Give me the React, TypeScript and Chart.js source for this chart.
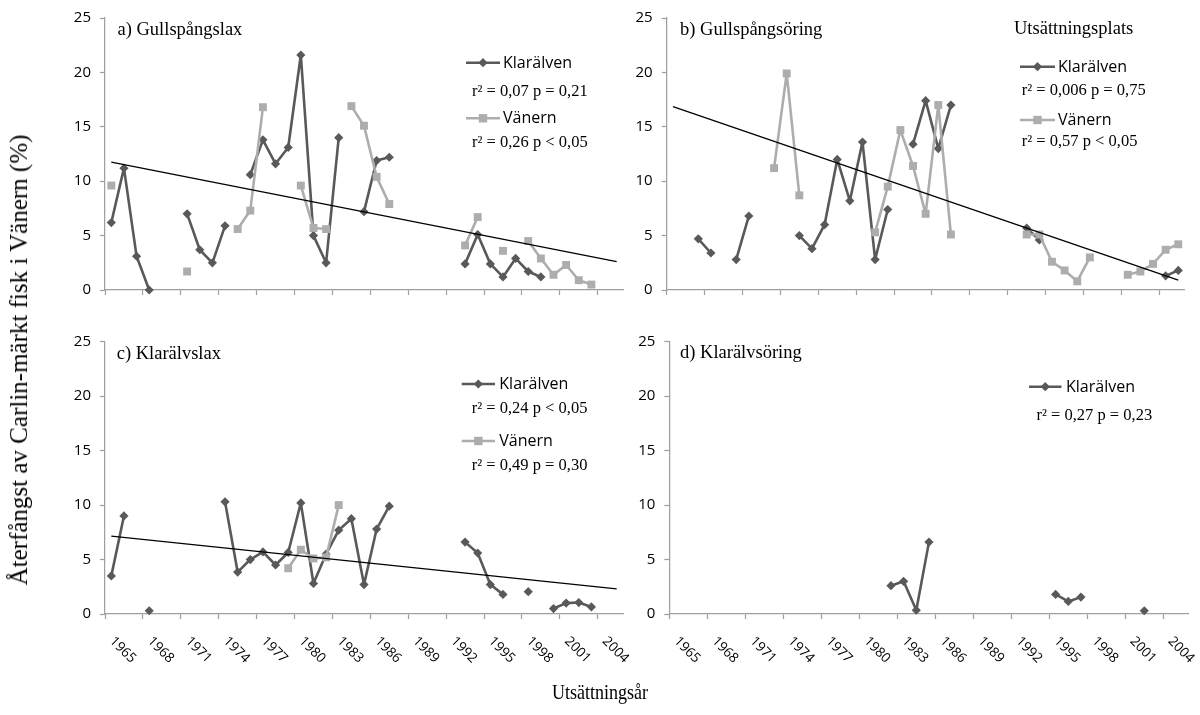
import React, { useEffect, useRef } from "react";
import { Chart, registerables } from "chart.js";

Chart.register(...registerables);

// ---------- DATA ----------
const YEARS = [
  "1965", "1966", "1967", "1968", "1969", "1970", "1971", "1972", "1973", "1974",
  "1975", "1976", "1977", "1978", "1979", "1980", "1981", "1982", "1983", "1984",
  "1985", "1986", "1987", "1988", "1989", "1990", "1991", "1992", "1993", "1994",
  "1995", "1996", "1997", "1998", "1999", "2000", "2001", "2002", "2003", "2004",
  "2005",
];

const TICK_LABELS = [
  "1965", "1968", "1971", "1974", "1977", "1980", "1983", "1986", "1989", "1992",
  "1995", "1998", "2001", "2004",
];

const _ = null;

// a) Gullspångslax
const gullLaxKlaralven = [
  6.2, 11.2, 3.1, 0.0, _, _, 7.0, 3.7, 2.5, 5.9,
  _, 10.6, 13.8, 11.6, 13.1, 21.6, 5.0, 2.5, 14.0, _,
  7.2, 11.9, 12.2, _, _, _, _, _, 2.4, 5.1,
  2.4, 1.2, 2.9, 1.7, 1.2, _, _, _, _, _,
  _,
];
const gullLaxVanern = [
  9.6, _, _, _, _, _, 1.7, _, _, _,
  5.6, 7.3, 16.8, _, _, 9.6, 5.7, 5.6, _, 16.9,
  15.1, 10.4, 7.9, _, _, _, _, _, 4.1, 6.7,
  _, 3.6, _, 4.5, 2.9, 1.4, 2.3, 0.9, 0.5, _,
  _,
];
const gullLaxTrend = [
  11.75, _, _, _, _, _, _, _, _, _,
  _, _, _, _, _, _, _, _, _, _,
  _, _, _, _, _, _, _, _, _, _,
  _, _, _, _, _, _, _, _, _, _,
  2.6,
];

// b) Gullspångsöring
const gullOringKlaralven = [
  _, _, 4.7, 3.4, _, 2.8, 6.8, _, _, _,
  5.0, 3.8, 6.0, 12.0, 8.2, 13.6, 2.8, 7.4, _, 13.4,
  17.4, 13.0, 17.0, _, _, _, _, _, 5.7, 4.6,
  _, _, _, _, _, _, _, _, _, 1.3,
  1.8,
];
const gullOringVanern = [
  _, _, _, _, _, _, _, _, 11.2, 19.9,
  8.7, _, _, _, _, _, 5.3, 9.5, 14.7, 11.4,
  7.0, 17.0, 5.1, _, _, _, _, _, 5.1, 5.1,
  2.6, 1.8, 0.8, 3.0, _, _, 1.4, 1.7, 2.4, 3.7,
  4.2,
];
const gullOringTrend = [
  16.85, _, _, _, _, _, _, _, _, _,
  _, _, _, _, _, _, _, _, _, _,
  _, _, _, _, _, _, _, _, _, _,
  _, _, _, _, _, _, _, _, _, _,
  0.9,
];

// c) Klarälvslax
const klarLaxKlaralven = [
  3.5, 9.0, _, 0.3, _, _, _, _, _, 10.3,
  3.85, 5.0, 5.7, 4.5, 5.65, 10.2, 2.8, 5.5, 7.7, 8.75,
  2.7, 7.8, 9.9, _, _, _, _, _, 6.6, 5.6,
  2.7, 1.8, _, 2.05, _, 0.5, 1.0, 1.05, 0.65, _,
  _,
];
const klarLaxVanern = [
  _, _, _, _, _, _, _, _, _, _,
  _, _, _, _, 4.2, 5.9, 5.1, 5.2, 10.0, _,
  _, _, _, _, _, _, _, _, _, _,
  _, _, _, _, _, _, _, _, _, _,
  _,
];
const klarLaxTrend = [
  7.15, _, _, _, _, _, _, _, _, _,
  _, _, _, _, _, _, _, _, _, _,
  _, _, _, _, _, _, _, _, _, _,
  _, _, _, _, _, _, _, _, _, _,
  2.3,
];

// d) Klarälvsöring
const klarOringKlaralven = [
  _, _, _, _, _, _, _, _, _, _,
  _, _, _, _, _, _, _, 2.6, 3.0, 0.35,
  6.6, _, _, _, _, _, _, _, _, _,
  1.8, 1.15, 1.55, _, _, _, _, 0.3, _, _,
  _,
];

const SERIES_NAMES = { K: "Klarälven", V: "Vänern" };

// ---------- STYLE / LAYOUT ----------
const COLOR_K = "#595959";
const COLOR_V = "#adadad";
const AXIS_GRAY = "#a0a0a0";
const SERIF = '"Liberation Serif", "Times New Roman", serif';
const SANS = '"Open Sans", "DejaVu Sans", sans-serif';

type Entry = { s: "K" | "V"; x1: number; x2: number; y: number; tx: number; r2: string; rx: number; ry: number };
type Panel = {
  key: string;
  area: { l: number; r: number; t: number; b: number };
  title: string;
  titleX: number;
  titleY: number;
  k: (number | null)[];
  v?: (number | null)[];
  trend?: (number | null)[];
  legend: Entry[];
  extra?: { text: string; x: number; y: number };
  xLabels: boolean;
};

const PANELS: Panel[] = [
  {
    key: "a",
    area: { l: 105, r: 623, t: 17.3, b: 290 },
    title: "a) Gullspångslax",
    titleX: 117.5,
    titleY: 35,
    k: gullLaxKlaralven,
    v: gullLaxVanern,
    trend: gullLaxTrend,
    legend: [
      { s: "K", x1: 466, x2: 500, y: 62.7, tx: 503, r2: "r² = 0,07 p = 0,21", rx: 472, ry: 95.5 },
      { s: "V", x1: 466, x2: 500, y: 118.3, tx: 503, r2: "r² = 0,26 p < 0,05", rx: 472, ry: 147.3 },
    ],
    xLabels: false,
  },
  {
    key: "b",
    area: { l: 666.7, r: 1184.6, t: 17.3, b: 290 },
    title: "b) Gullspångsöring",
    titleX: 680,
    titleY: 35,
    k: gullOringKlaralven,
    v: gullOringVanern,
    trend: gullOringTrend,
    legend: [
      { s: "K", x1: 1020, x2: 1055, y: 66.7, tx: 1058, r2: "r² = 0,006 p = 0,75", rx: 1021.7, ry: 95 },
      { s: "V", x1: 1020, x2: 1055, y: 120, tx: 1058, r2: "r² = 0,57 p < 0,05", rx: 1021.7, ry: 146 },
    ],
    extra: { text: "Utsättningsplats", x: 1014, y: 34 },
    xLabels: false,
  },
  {
    key: "c",
    area: { l: 105, r: 623, t: 341.7, b: 614 },
    title: "c) Klarälvslax",
    titleX: 116.7,
    titleY: 359.3,
    k: klarLaxKlaralven,
    v: klarLaxVanern,
    trend: klarLaxTrend,
    legend: [
      { s: "K", x1: 461.7, x2: 495, y: 384, tx: 499.3, r2: "r² = 0,24 p < 0,05", rx: 471.7, ry: 413.3 },
      { s: "V", x1: 461.7, x2: 495, y: 441, tx: 499.3, r2: "r² = 0,49 p = 0,30", rx: 471.7, ry: 470 },
    ],
    xLabels: true,
  },
  {
    key: "d",
    area: { l: 669.3, r: 1188.6, t: 341.7, b: 614 },
    title: "d) Klarälvsöring",
    titleX: 680,
    titleY: 358.3,
    k: klarOringKlaralven,
    legend: [
      { s: "K", x1: 1029, x2: 1061.5, y: 386.7, tx: 1066, r2: "r² = 0,27 p = 0,23", rx: 1036.5, ry: 420 },
    ],
    xLabels: true,
  },
];

function drawMarker(ctx: CanvasRenderingContext2D, s: "K" | "V", x: number, y: number) {
  ctx.beginPath();
  if (s === "K") {
    const r = 4.6;
    ctx.moveTo(x, y - r);
    ctx.lineTo(x + r, y);
    ctx.lineTo(x, y + r);
    ctx.lineTo(x - r, y);
    ctx.closePath();
    ctx.fillStyle = COLOR_K;
  } else {
    const h = 4.2;
    ctx.rect(x - h, y - h, 2 * h, 2 * h);
    ctx.fillStyle = COLOR_V;
  }
  ctx.fill();
}

function makeTextPlugin(p: Panel) {
  return {
    id: "panelText_" + p.key,
    afterDraw(chart: any) {
      const ctx: CanvasRenderingContext2D = chart.ctx;
      ctx.save();
      ctx.textAlign = "left";
      ctx.textBaseline = "alphabetic";
      ctx.fillStyle = "#000";
      ctx.font = `18.5px ${SERIF}`;
      ctx.fillText(p.title, p.titleX, p.titleY);
      if (p.extra) {
        ctx.font = `18.5px ${SERIF}`;
        ctx.fillText(p.extra.text, p.extra.x, p.extra.y);
      }
      for (const e of p.legend) {
        ctx.strokeStyle = e.s === "K" ? COLOR_K : COLOR_V;
        ctx.lineWidth = 2.6;
        ctx.beginPath();
        ctx.moveTo(e.x1, e.y);
        ctx.lineTo(e.x2, e.y);
        ctx.stroke();
        drawMarker(ctx, e.s, (e.x1 + e.x2) / 2, e.y);
        ctx.fillStyle = "#000";
        ctx.font = `16px ${SANS}`;
        ctx.textBaseline = "middle";
        ctx.fillText(SERIES_NAMES[e.s], e.tx, e.y + 0.5);
        ctx.textBaseline = "alphabetic";
        ctx.font = `16.5px ${SERIF}`;
        ctx.fillText(e.r2, e.rx, e.ry);
      }
      ctx.restore();
    },
  };
}

const xLabelPlugin = {
  id: "xLabels",
  afterDraw(chart: any) {
    const xs = chart.scales.x;
    const ctx: CanvasRenderingContext2D = chart.ctx;
    ctx.save();
    ctx.fillStyle = "#000";
    ctx.font = `13.5px ${SANS}`;
    ctx.textAlign = "left";
    ctx.textBaseline = "middle";
    YEARS.forEach((lab, i) => {
      if (!TICK_LABELS.includes(lab)) return;
      const x = xs.getPixelForTick(i);
      ctx.save();
      ctx.translate(x + 0.5, xs.top + 25);
      ctx.rotate(Math.PI / 4);
      ctx.fillText(lab, 0, 0);
      ctx.restore();
    });
    ctx.restore();
  },
};

function makeConfig(p: Panel): any {
  const yW = 60;
  const xH = 40;
  const datasets: any[] = [];
  if (p.trend) {
    datasets.push({
      label: "trend",
      data: p.trend,
      borderColor: "#000",
      borderWidth: 1.3,
      pointRadius: 0,
      spanGaps: true,
      tension: 0,
      clip: false,
    });
  }
  if (p.v) {
    datasets.push({
      label: SERIES_NAMES.V,
      data: p.v,
      borderColor: COLOR_V,
      backgroundColor: COLOR_V,
      borderWidth: 2.6,
      borderJoinStyle: "round",
      pointStyle: "rect",
      pointRadius: 5.6,
      pointBorderWidth: 0,
      pointBackgroundColor: COLOR_V,
      spanGaps: false,
      tension: 0,
      clip: false,
    });
  }
  datasets.push({
    label: SERIES_NAMES.K,
    data: p.k,
    borderColor: COLOR_K,
    backgroundColor: COLOR_K,
    borderWidth: 2.6,
    borderJoinStyle: "round",
    pointStyle: "rectRot",
    pointRadius: 4.6,
    pointBorderWidth: 0,
    pointBackgroundColor: COLOR_K,
    spanGaps: false,
    tension: 0,
    clip: false,
  });

  const plugins: any[] = [makeTextPlugin(p)];
  if (p.xLabels) plugins.push(xLabelPlugin);

  return {
    type: "line",
    data: { labels: YEARS, datasets },
    options: {
      responsive: false,
      maintainAspectRatio: false,
      animation: false,
      devicePixelRatio: 1,
      events: [],
      layout: {
        padding: {
          left: p.area.l - yW,
          right: 1200 - p.area.r,
          top: p.area.t,
          bottom: 715 - p.area.b - xH,
        },
      },
      plugins: {
        legend: { display: false },
        tooltip: { enabled: false },
        title: { display: false },
      },
      scales: {
        x: {
          type: "category",
          offset: true,
          grid: {
            offset: true,
            drawOnChartArea: false,
            drawTicks: true,
            tickLength: 5,
            tickWidth: 1.25,
            tickColor: (c: any) =>
              c.index !== undefined && c.index % 3 === 0 ? AXIS_GRAY : "rgba(0,0,0,0)",
          },
          border: { display: true, color: AXIS_GRAY, width: 1.25 },
          ticks: { display: false },
          afterFit: (s: any) => {
            s.height = xH;
          },
        },
        y: {
          min: 0,
          max: 25,
          ticks: {
            stepSize: 5,
            color: "#000",
            padding: 9,
            font: { family: SANS, size: 15 },
          },
          grid: {
            drawOnChartArea: false,
            drawTicks: true,
            tickLength: 5,
            tickWidth: 1.25,
            tickColor: AXIS_GRAY,
          },
          border: { display: true, color: AXIS_GRAY, width: 1.25 },
          afterFit: (s: any) => {
            s.width = yW;
          },
        },
      },
    },
    plugins,
  };
}

function PanelChart({ panel }: { panel: Panel }) {
  const ref = useRef<HTMLCanvasElement | null>(null);
  useEffect(() => {
    if (!ref.current) return;
    const chart = new Chart(ref.current, makeConfig(panel));
    return () => chart.destroy();
  }, [panel]);
  return (
    <canvas
      ref={ref}
      width={1200}
      height={715}
      style={{ position: "absolute", left: 0, top: 0, width: 1200, height: 715 }}
    />
  );
}

export default function App() {
  return (
    <div
      style={{
        position: "absolute",
        left: 0,
        top: 0,
        width: 1200,
        height: 715,
        background: "#fff",
        overflow: "hidden",
      }}
    >
      {PANELS.map((p) => (
        <PanelChart key={p.key} panel={p} />
      ))}
      <div
        style={{
          position: "absolute",
          left: 19,
          top: 360,
          transform: "translate(-50%, -50%) rotate(-90deg)",
          whiteSpace: "nowrap",
          fontFamily: SERIF,
          fontSize: 25,
          lineHeight: "28px",
          color: "#000",
        }}
      >
        Återfångst av Carlin-märkt fisk i Vänern (%)
      </div>
      <div
        style={{
          position: "absolute",
          left: 600,
          top: 692,
          transform: "translate(-50%, -50%) scaleX(0.82)",
          whiteSpace: "nowrap",
          fontFamily: SERIF,
          fontSize: 22,
          lineHeight: "26px",
          color: "#000",
        }}
      >
        Utsättningsår
      </div>
    </div>
  );
}
